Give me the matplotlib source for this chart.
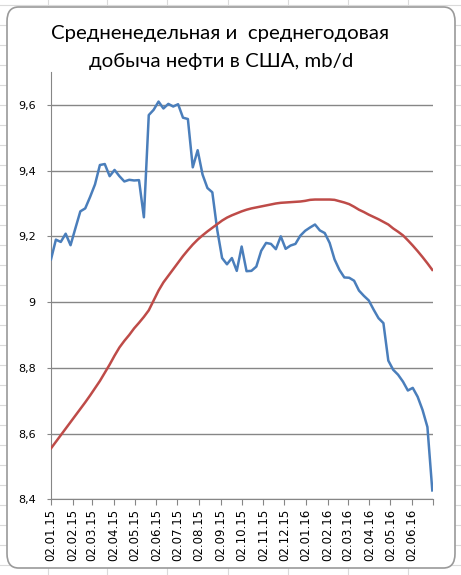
import matplotlib
matplotlib.use("Agg")
import matplotlib.pyplot as plt
from matplotlib.patches import FancyBboxPatch
import pandas as pd

# weekly US crude output, mb/d
weeks = pd.date_range("2015-01-02", periods=79, freq="7D")
weekly = [9.13, 9.19, 9.183, 9.208, 9.173, 9.225, 9.276, 9.285, 9.32, 9.358,
          9.417, 9.42, 9.383, 9.402, 9.383, 9.367, 9.372, 9.370, 9.371, 9.258,
          9.569, 9.585, 9.610, 9.589, 9.603, 9.595, 9.602, 9.561, 9.557, 9.41,
          9.462, 9.388, 9.347, 9.334, 9.22, 9.134, 9.115, 9.134, 9.095, 9.169,
          9.094, 9.095, 9.108, 9.156, 9.18, 9.177, 9.161, 9.2, 9.162, 9.172,
          9.177, 9.202, 9.217, 9.227, 9.236, 9.218, 9.21, 9.18, 9.13, 9.098,
          9.075, 9.074, 9.065, 9.035, 9.019, 9.005, 8.977, 8.951, 8.936, 8.822,
          8.794, 8.779, 8.758, 8.731, 8.739, 8.712, 8.672, 8.62, 8.427]
yearly = [8.555, 8.575, 8.595, 8.615, 8.635, 8.655, 8.675, 8.695, 8.716, 8.738,
          8.76, 8.785, 8.81, 8.837, 8.862, 8.882, 8.90, 8.92, 8.937, 8.955,
          8.975, 9.005, 9.035, 9.06, 9.08, 9.10, 9.12, 9.14, 9.158, 9.175,
          9.19, 9.203, 9.215, 9.226, 9.237, 9.248, 9.257, 9.264, 9.270, 9.276,
          9.281, 9.285, 9.288, 9.291, 9.294, 9.297, 9.300, 9.302, 9.303, 9.304,
          9.305, 9.306, 9.308, 9.311, 9.312, 9.312, 9.312, 9.312, 9.311, 9.307,
          9.303, 9.298, 9.290, 9.281, 9.274, 9.266, 9.259, 9.252, 9.244, 9.236,
          9.224, 9.214, 9.203, 9.188, 9.172, 9.155, 9.137, 9.118, 9.098]
yticks = [8.4, 8.6, 8.8, 9.0, 9.2, 9.4, 9.6]
ylabels = ["8,4", "8,6", "8,8", "9", "9,2", "9,4", "9,6"]
title1 = "Средненедельная и  среднегодовая"
title2 = "добыча нефти в США, mb/d"

fig = plt.figure(figsize=(4.61, 5.75), dpi=100)
fig.patch.set_facecolor("white")

# excel sheet grid behind the chart
for xp in [48, 107, 167, 228, 288, 348, 408]:
    fig.add_artist(plt.Line2D([xp / 461, xp / 461], [0, 1], color="#dadada", lw=0.8, zorder=0))
for yp in range(5, 575, 20):
    fig.add_artist(plt.Line2D([0, 1], [1 - yp / 575, 1 - yp / 575], color="#dadada", lw=0.8, zorder=0))

box = FancyBboxPatch((7 / 461, 7 / 575), 448 / 461, 561 / 575,
                     boxstyle="round,pad=0,rounding_size=0.025",
                     transform=fig.transFigure, facecolor="white",
                     edgecolor="#9a9a9a", lw=1.2, zorder=1)
fig.add_artist(box)

ax = fig.add_axes([51 / 461, 1 - 499.3 / 575, 382 / 461, 427.3 / 575])
ax.set_facecolor("none")
ax.set_zorder(2)

ax.plot(weeks, weekly, color="#4a7ebb", lw=1.8, zorder=3)
ax.plot(weeks, yearly, color="#be4b48", lw=1.8, zorder=3)

ax.set_ylim(8.4, 9.7)
ax.set_yticks(yticks)
ax.set_yticklabels(ylabels)
ax.yaxis.grid(True, color="#868686", lw=1)
ax.set_axisbelow(True)

ax.set_xlim(pd.Timestamp("2015-01-02"), pd.Timestamp("2016-07-02"))
xt = pd.date_range("2015-01-01", "2016-07-01", freq="MS") + pd.Timedelta(days=1)
ax.set_xticks(xt)
ax.set_xticklabels([d.strftime("%d.%m.%y") for d in xt[:-1]] + [""],
                   rotation=90)

for s in ["top", "right"]:
    ax.spines[s].set_visible(False)
for s in ["left", "bottom"]:
    ax.spines[s].set_color("#868686")
ax.tick_params(axis="x", length=4, color="#868686", labelsize=8.5, pad=3)
ax.tick_params(axis="y", length=3, color="#868686", labelsize=8, pad=8)

fig.text(220 / 461, 1 - 39 / 575, title1, ha="center", va="baseline",
         fontsize=14.7, family="Lato")
fig.text(221 / 461, 1 - 67 / 575, title2, ha="center", va="baseline",
         fontsize=14.7, family="Lato")

fig.savefig("out.png", dpi=100, facecolor=fig.get_facecolor())
